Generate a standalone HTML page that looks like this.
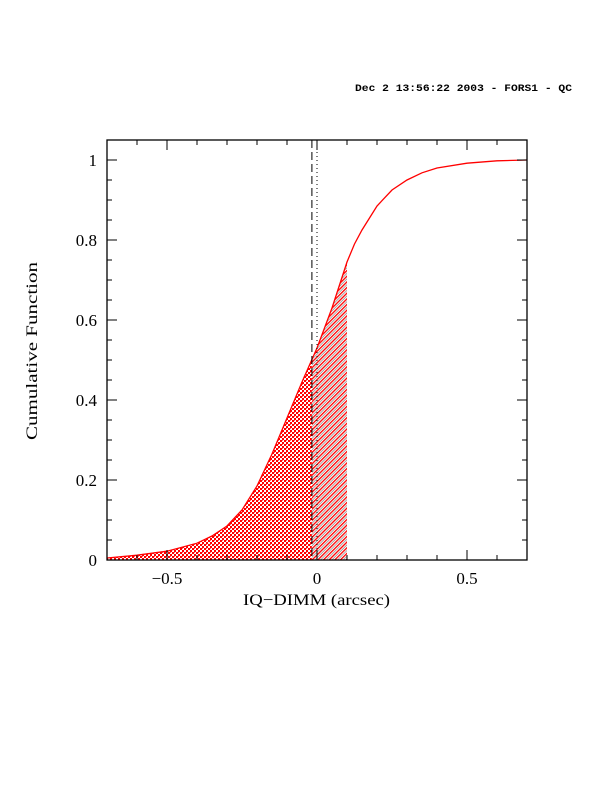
<!DOCTYPE html>
<html><head><meta charset="utf-8"><style>
body{margin:0;background:#fff}
svg text{font-family:"Liberation Serif",serif}
</style></head><body>
<svg id="c" width="612" height="792" viewBox="0 0 612 792">
<defs>
<pattern id="xh" width="4" height="4" patternUnits="userSpaceOnUse">
<rect width="4" height="4" fill="#fff"/>
<rect x="0" y="0" width="2" height="2" fill="#f00"/>
<rect x="2" y="2" width="2" height="2" fill="#f00"/>
<rect x="2" y="0" width="1" height="1" fill="#f66"/>
</pattern>
<pattern id="dh" width="4" height="4" patternUnits="userSpaceOnUse" patternTransform="rotate(45)">
<rect width="4" height="4" fill="#fff"/>
<rect x="0" y="0" width="1.3" height="4" fill="#f00"/>
<rect x="2.3" y="0" width="0.7" height="4" fill="#888"/>
</pattern>
</defs>
<text x="355" y="91" textLength="217" lengthAdjust="spacingAndGlyphs" font-size="10" font-weight="bold" style="font-family:'Liberation Mono',monospace">Dec  2 13:56:22 2003 - FORS1 - QC</text>
<g id="plot"></g>
<text x="243" y="605" textLength="147" lengthAdjust="spacingAndGlyphs" font-size="16">IQ−DIMM (arcsec)</text>
<text transform="translate(37,440) rotate(-90)" textLength="178" lengthAdjust="spacingAndGlyphs" font-size="16">Cumulative Function</text>
</svg>
<script>
const xs=[-0.7,-0.6,-0.5,-0.4,-0.35,-0.3,-0.25,-0.2,-0.15,-0.1,-0.05,0,0.05,0.1,0.125,0.15,0.2,0.25,0.3,0.35,0.4,0.5,0.6,0.7];
const cdf=[0.005,0.012,0.022,0.042,0.06,0.085,0.125,0.185,0.265,0.355,0.445,0.53,0.63,0.745,0.79,0.825,0.885,0.925,0.95,0.968,0.98,0.992,0.998,1.0];
const xTickLabels=[-0.5,0,0.5];
const yTickLabels=[0,0.2,0.4,0.6,0.8,1];
const medianX=-0.017, zeroX=0, hatchEnd=0.1;
const L=107,R=527,T=140,B=560;
const X=v=>L+(v+0.7)/1.4*(R-L);
const Y=v=>B-v/1.05*(B-T);
const NS='http://www.w3.org/2000/svg';
const g=document.getElementById('plot');
function mk(t,a){const e=document.createElementNS(NS,t);for(const k in a)e.setAttribute(k,a[k]);g.appendChild(e);return e;}
function interp(x){for(let i=0;i<xs.length-1;i++){if(x<=xs[i+1]){const f=(x-xs[i])/(xs[i+1]-xs[i]);return cdf[i]+f*(cdf[i+1]-cdf[i]);}}return cdf[cdf.length-1];}
function area(a,b){let p=`M${X(a)},${Y(0)} L${X(a)},${Y(interp(a))}`;for(let i=0;i<xs.length;i++)if(xs[i]>a&&xs[i]<b)p+=` L${X(xs[i])},${Y(cdf[i])}`;p+=` L${X(b)},${Y(interp(b))} L${X(b)},${Y(0)}Z`;return p;}
let e=mk('path',{d:area(-0.7,medianX),fill:'url(#xh)'});


e=mk('path',{d:area(medianX,hatchEnd),fill:'url(#dh)'});


let d='';for(let i=0;i<xs.length;i++)d+=(i?' L':'M')+X(xs[i])+','+Y(cdf[i]);
e=mk('path',{d:d,fill:'none',stroke:'#f00','stroke-width':1.3});


e=mk('line',{x1:X(medianX),x2:X(medianX),y1:T,y2:B,stroke:'#000','stroke-dasharray':'8,4'});


e=mk('line',{x1:X(zeroX),x2:X(zeroX),y1:T,y2:B,stroke:'#000','stroke-dasharray':'1,3'});


e=mk('rect',{x:L,y:T,width:R-L,height:B-T,fill:'none',stroke:'#000','stroke-width':1.3});


for(let k=-7;k<=7;k++){const v=k/10,len=(k%5===0)?10:5,x=X(v);
 e=mk('line',{x1:x,x2:x,y1:B,y2:B-len,stroke:'#000'});
 e=mk('line',{x1:x,x2:x,y1:T,y2:T+len,stroke:'#000'});}
for(let k=0;k<=21;k++){const v=k*0.05,len=(k%4===0)?10:5,y=Y(v);
 e=mk('line',{x1:L,x2:L+len,y1:y,y2:y,stroke:'#000'});
 e=mk('line',{x1:R,x2:R-len,y1:y,y2:y,stroke:'#000'});}
xTickLabels.forEach(v=>{e=mk('text',{x:X(v),y:B+24,'text-anchor':'middle','font-size':17});e.textContent=v<0?'−'+Math.abs(v):String(v);
 });
yTickLabels.forEach(v=>{e=mk('text',{x:L-10,y:Y(v)+6,'text-anchor':'end','font-size':17});e.textContent=String(v);
 });
</script>
</body></html>
